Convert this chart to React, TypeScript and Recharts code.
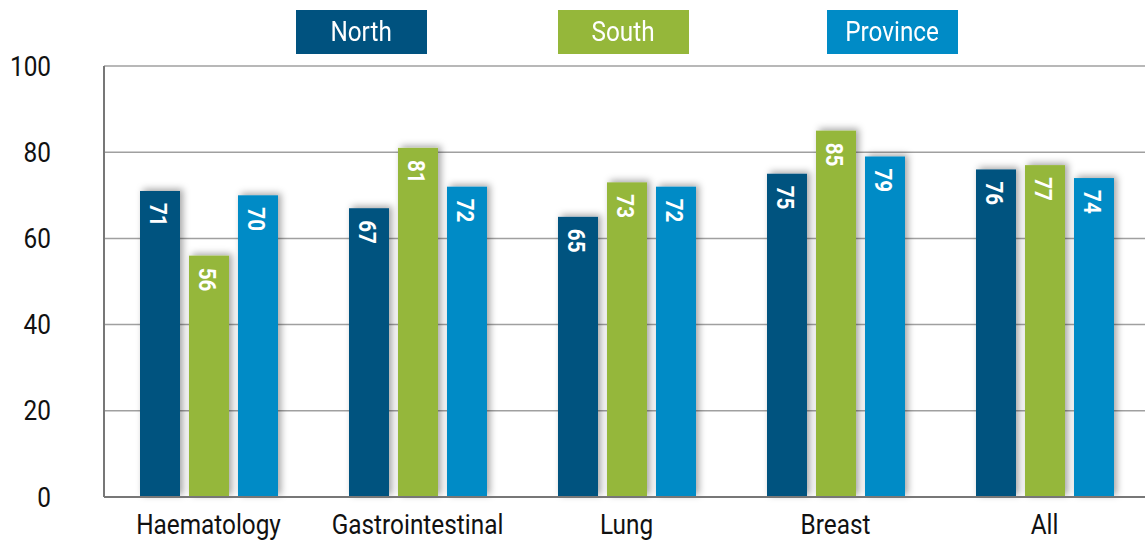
import { BarChart, Bar, XAxis, YAxis, CartesianGrid, LabelList } from 'recharts';

const categories = ['Haematology', 'Gastrointestinal', 'Lung', 'Breast', 'All'];
const north = [71, 67, 65, 75, 76];
const south = [56, 81, 73, 85, 77];
const province = [70, 72, 72, 79, 74];
const yTicks = [0, 20, 40, 60, 80, 100];

const SERIES = [
  { key: 'north', name: 'North', color: '#00527f' },
  { key: 'south', name: 'South', color: '#95b73a' },
  { key: 'province', name: 'Province', color: '#008bc6' },
];

const FONT = "Roboto, 'Liberation Sans', sans-serif";

const data = categories.map((name, i) => ({
  name,
  north: north[i],
  south: south[i],
  province: province[i],
}));

// condensed look: squeeze a normal font horizontally
const YTick = ({ y, payload }: any) => (
  <text
    transform={`translate(51 ${y}) scale(0.87 1)`}
    textAnchor="end"
    dominantBaseline="central"
    fontSize={28}
    fill="#111"
    fontFamily={FONT}
  >
    {payload.value}
  </text>
);

const XTick = ({ x, y, payload }: any) => (
  <text
    transform={`translate(${x} ${y + 29}) scale(0.87 1)`}
    textAnchor="middle"
    fontSize={28}
    fill="#111"
    fontFamily={FONT}
  >
    {payload.value}
  </text>
);

const ShadowBar = (props: any) => {
  const { x, y, width, height, fill } = props;
  return <rect x={x} y={y} width={width} height={height} fill={fill} filter="url(#barShadow)" />;
};

const BarLabel = (props: any) => {
  const { x, y, width, value } = props;
  const cx = x + width / 2 - 1;
  const ty = y + 12;
  return (
    <text
      transform={`translate(${cx} ${ty}) rotate(90) scale(0.86 1)`}
      textAnchor="start"
      dominantBaseline="central"
      fill="#fff"
      fontSize={24}
      fontWeight="bold"
      fontFamily={FONT}
    >
      {value}
    </text>
  );
};

const LegendBoxes = () => (
  <div style={{ position: 'absolute', top: 10, left: 296, display: 'flex', gap: 131 }}>
    {SERIES.map((s, i) => (
      <div
        key={s.key}
        style={{
          width: 131,
          height: 44,
          marginLeft: i === 2 ? 7 : 0,
          background: s.color,
          color: '#fff',
          fontFamily: FONT,
          fontSize: 27,
          display: 'flex',
          alignItems: 'center',
          justifyContent: 'center',
        }}
      >
        <span style={{ display: 'inline-block', transform: 'scaleX(0.9)' }}>{s.name}</span>
      </div>
    ))}
  </div>
);

export default function App() {
  return (
    <div style={{ position: 'absolute', left: 0, top: 0, width: 1145, height: 544, overflow: 'hidden', background: '#fff' }}>
      <BarChart
        width={1150}
        height={544}
        data={data}
        margin={{ top: 66, right: 1, bottom: 0, left: 0 }}
        barSize={40}
        barGap={9}
      >
        <defs>
          <filter id="barShadow" x="-40%" y="-15%" width="180%" height="130%">
            <feDropShadow dx={3} dy={-2} stdDeviation={3.5} floodColor="#000" floodOpacity={0.35} />
          </filter>
        </defs>
        <CartesianGrid vertical={false} stroke="#a0a0a0" strokeWidth={1.5} />
        <XAxis
          dataKey="name"
          height={47}
          tickLine={false}
          axisLine={{ stroke: '#777', strokeWidth: 2 }}
          tick={<XTick />}
          interval={0}
        />
        <YAxis
          width={104}
          domain={[0, 100]}
          ticks={yTicks}
          tickLine={false}
          axisLine={{ stroke: '#777', strokeWidth: 2 }}
          tick={<YTick />}
        />
        {SERIES.map((s) => (
          <Bar key={s.key} dataKey={s.key} name={s.name} fill={s.color} shape={<ShadowBar />} isAnimationActive={false}>
            <LabelList dataKey={s.key} content={<BarLabel />} />
          </Bar>
        ))}
      </BarChart>
      <LegendBoxes />
    </div>
  );
}
